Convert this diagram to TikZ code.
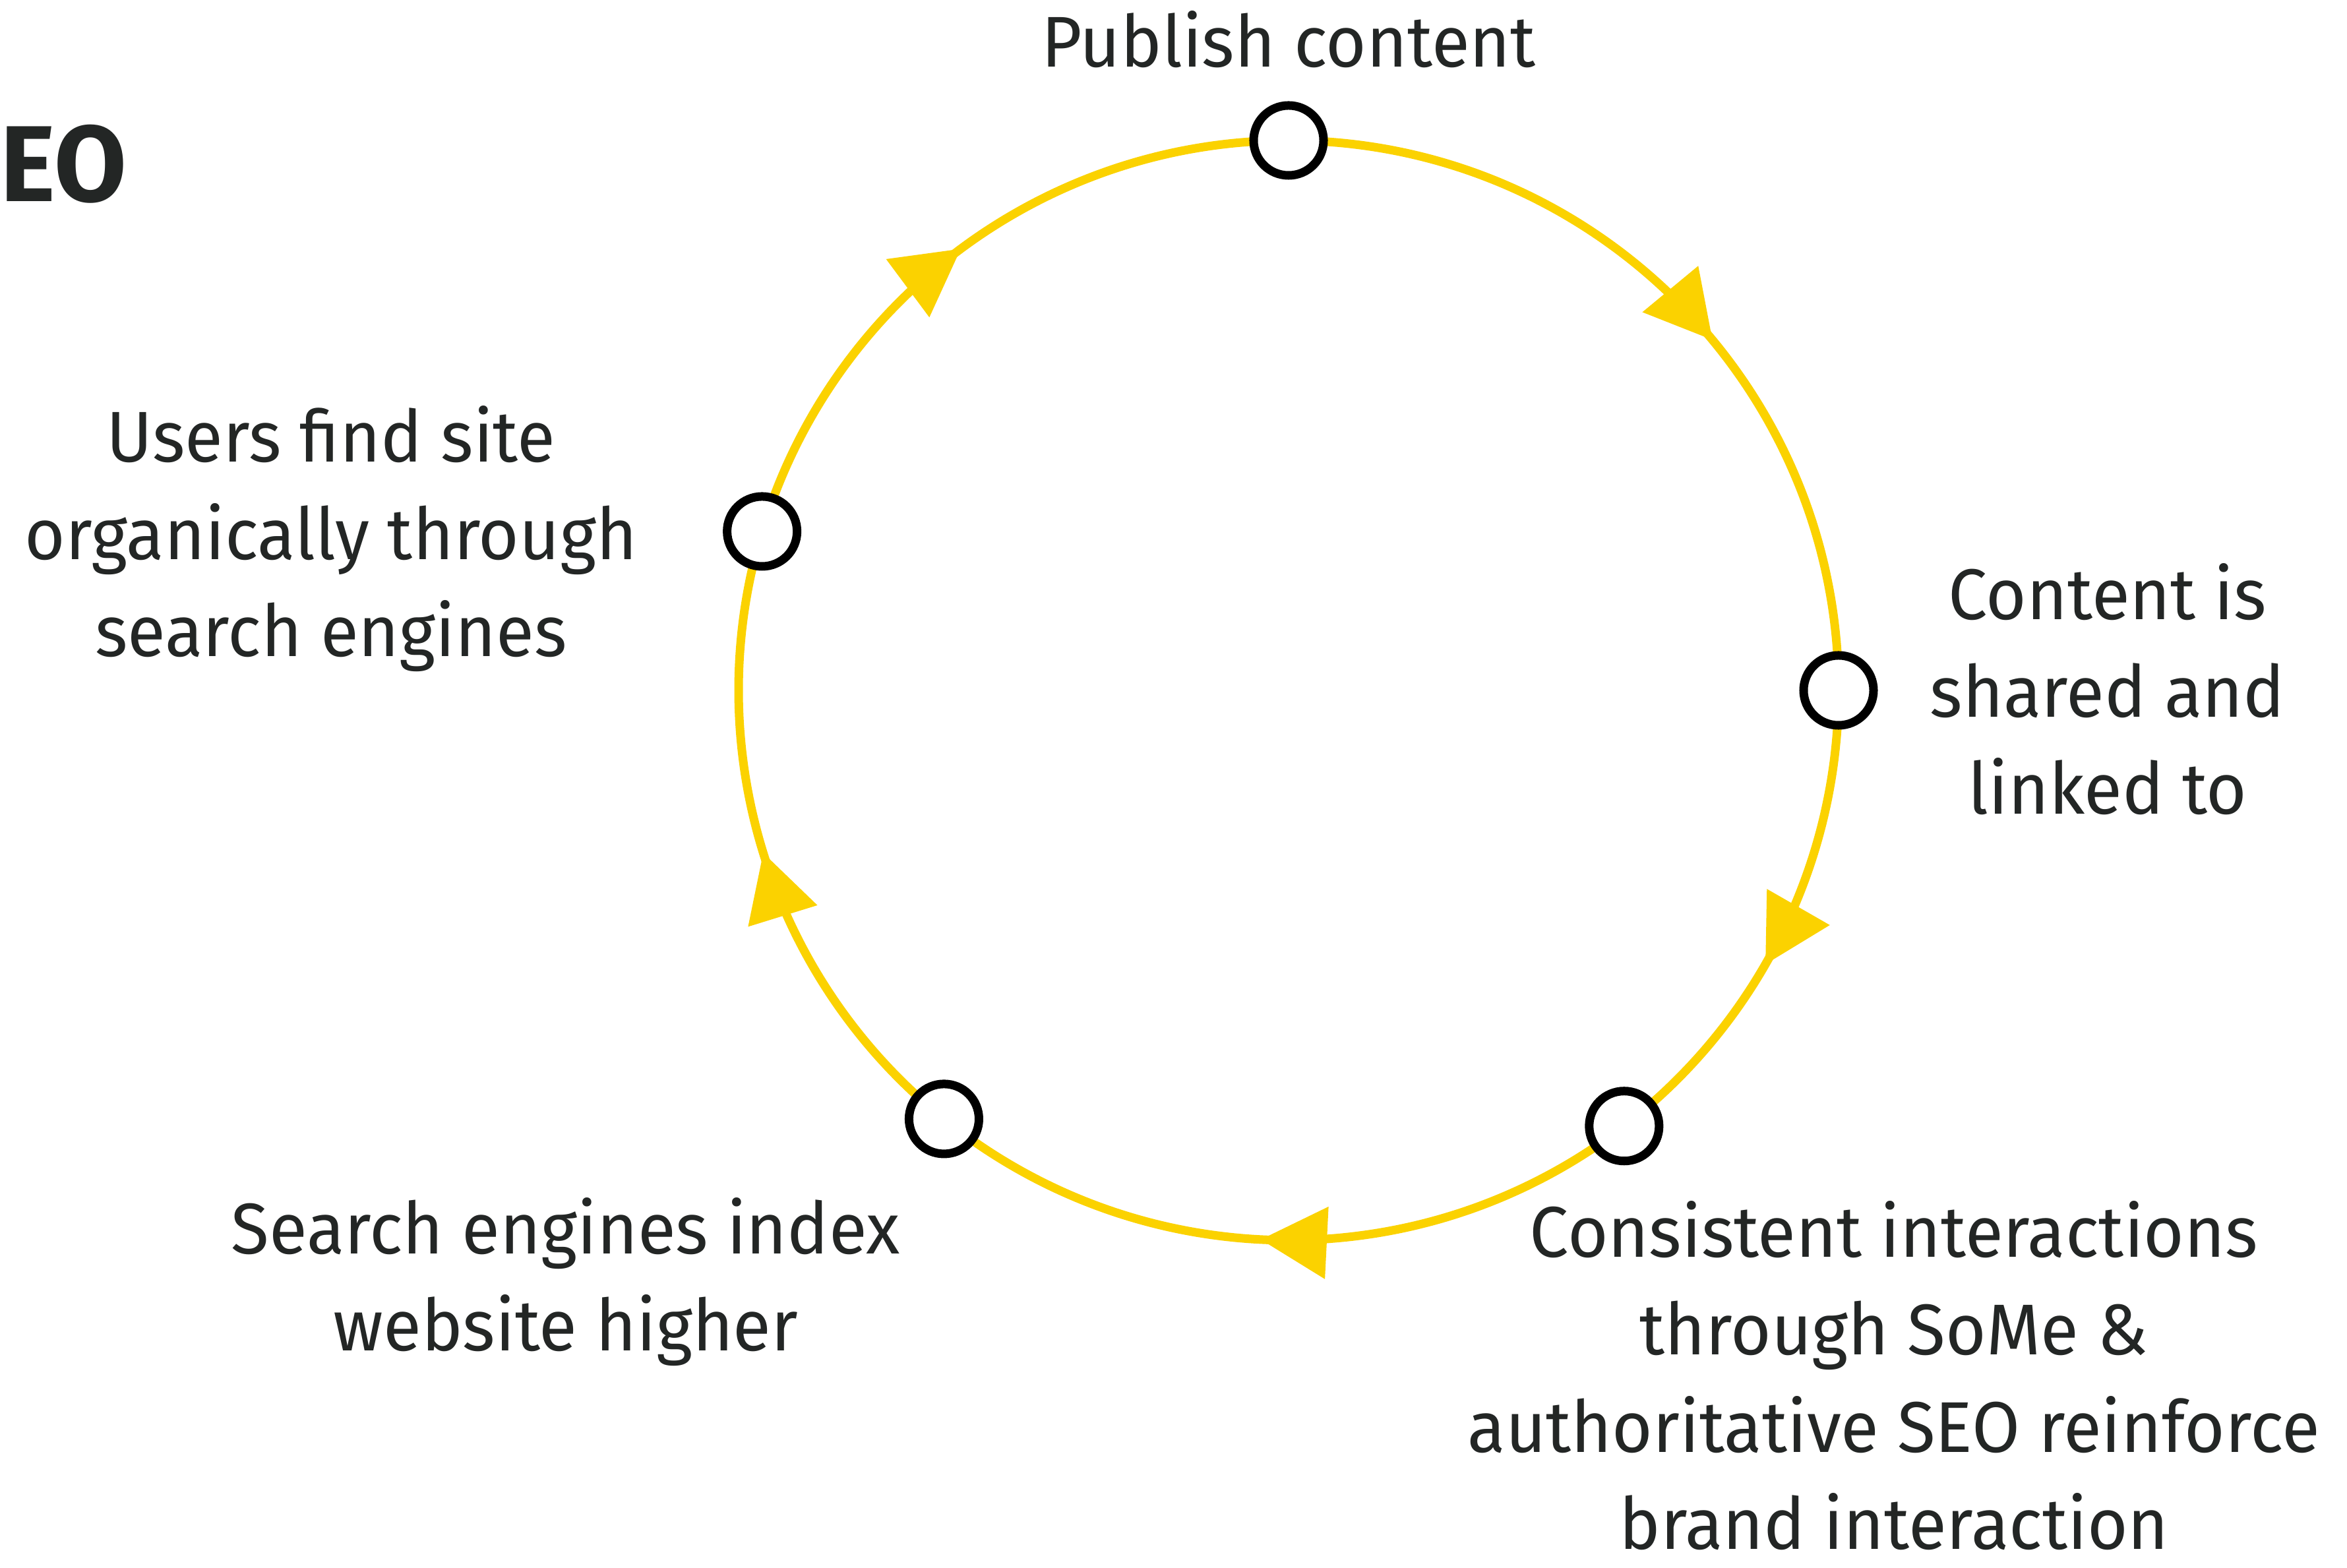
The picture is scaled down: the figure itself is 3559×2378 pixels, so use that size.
\documentclass[tikz,border=0pt]{standalone}
\usepackage{fontspec}
\setmainfont[FakeStretch=0.97]{Fira Sans}
\usetikzlibrary{arrows.meta,decorations.markings,backgrounds}
\definecolor{seoyellow}{RGB}{251,210,0}
\definecolor{inkgray}{RGB}{35,38,37}
\newcommand{\ringR}{834}
\tikzset{
  stage/.style={
    circle,
    draw=black,
    fill=white,
    line width=3.7pt,
    minimum size=1.06cm,
    inner sep=0pt
  },
  lbl/.style={font=\fontsize{31}{42}\selectfont, text=inkgray, align=center, inner sep=0pt, anchor=base},
  ttl/.style={font=\fontsize{46.6}{50}\selectfont\bfseries, text=inkgray, inner sep=0pt, anchor=base west},
  loopline/.style={draw=seoyellow, line width=3.7pt},
  flow/.style={
    postaction={decorate},
    decoration={markings, mark=at position #1 with {\arrow[seoyellow]{Triangle[length=1.0cm, width=1.1cm, line width=0pt]}}}
  },
}

\begin{document}
\begin{tikzpicture}[x=0.01cm, y=0.01cm]
  \useasboundingbox (0,0) rectangle (3559,2378);
  \coordinate (hub) at (1954,1331);
  % the five stages sit on one ring
  \node[stage] (publish) at ([shift={(90:\ringR)}]hub) {};
  \node[stage] (shared)  at ([shift={(0:\ringR)}]hub) {};
  \node[stage] (some)    at ([shift={(-52.4:\ringR)}]hub) {};
  \node[stage] (index)   at ([shift={(-128.8:\ringR)}]hub) {};
  \node[stage] (organic) at ([shift={(163.2:\ringR)}]hub) {};
  \begin{scope}[on background layer]
    \draw[loopline, flow=0.56] (publish.center) arc[start angle=90, end angle=0, radius=\ringR];
    \draw[loopline, flow=0.57] (shared.center) arc[start angle=0, end angle=-52.4, radius=\ringR];
    \draw[loopline, flow=0.53] (some.center) arc[start angle=-52.4, end angle=-128.8, radius=\ringR];
    \draw[loopline, flow=0.50] (index.center) arc[start angle=231.2, end angle=163.2, radius=\ringR];
    \draw[loopline, flow=0.50] (organic.center) arc[start angle=163.2, end angle=90, radius=\ringR];
  \end{scope}
  % labels (base = baseline of the last line)
  \node[ttl] (title) at (0,2072) {EO};
  \node[lbl] (publishtxt) at (1954,2276) {Publish content};
  \node[lbl] (sharedtxt)  at (3196,1143) {Content is\\shared and\\linked to};
  \node[lbl] (sometxt)    at (2872,28)   {Consistent interactions\\through SoMe \&\\authoritative SEO reinforce\\brand interaction};
  \node[lbl] (indextxt)   at (858,329)   {Search engines index\\website higher};
  \node[lbl] (organictxt) at (502,1382)  {Users find site\\organically through\\search engines};
\end{tikzpicture}
\end{document}
